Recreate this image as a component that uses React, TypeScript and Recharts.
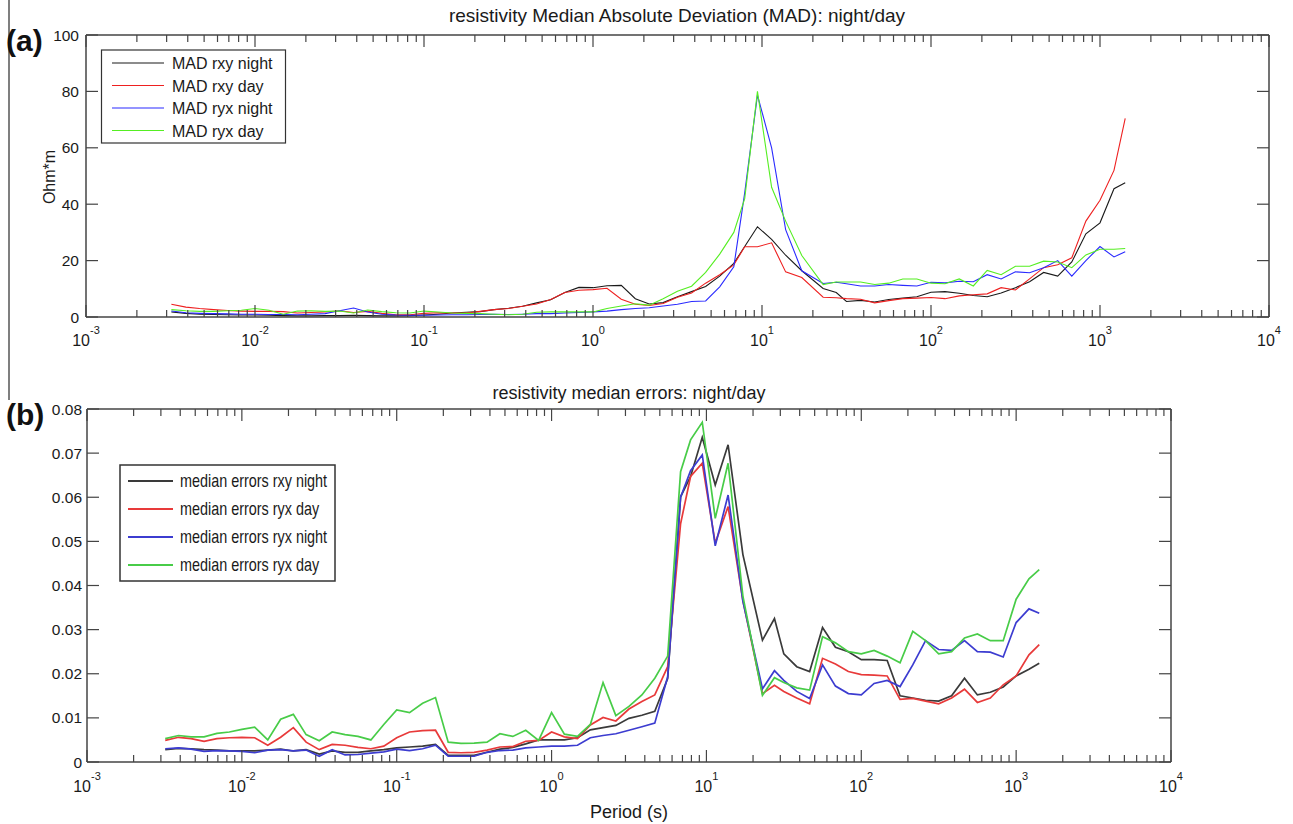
import { LineChart, Line, XAxis, YAxis } from 'recharts';

// periods (s), shared by both panels
const periods = [
  0.0032, 0.0039, 0.0047, 0.0057, 0.0069, 0.0083, 0.01, 0.0121, 0.0147, 0.0178, 0.0215, 0.026,
  0.0316, 0.0383, 0.0464, 0.0562, 0.0681, 0.0825, 0.1, 0.121, 0.147, 0.178, 0.215, 0.26,
  0.316, 0.383, 0.464, 0.562, 0.681, 0.825, 1.0, 1.21, 1.47, 1.78, 2.15, 2.6,
  3.16, 3.83, 4.64, 5.62, 6.81, 7.9, 9.4, 11.4, 13.8, 17.2, 23, 27.5,
  31.6, 38.3, 46.4, 56.2, 68.1, 82.5, 100, 121, 147, 178, 215, 260,
  316, 383, 464, 562, 681, 825, 1000, 1210, 1410,
];

// (a) MAD, Ohm*m
const madRxyNight = [
  1.8, 1.3, 1.0, 0.9, 0.8, 0.7, 0.7, 0.6, 0.5, 0.4, 0.4, 0.5, 0.5, 0.6, 0.5, 0.4, 0.4, 0.5, 0.7, 1.0, 1.4, 1.7, 1.9, 2.6,
  3.1, 3.8, 5.0, 6.1, 8.7, 10.5, 10.4, 11.1, 11.2, 6.5, 4.6, 5.1, 7.2, 9.0, 10.8, 14.5, 19.0, 25.0, 32.0, 27.5, 21.9, 16.4, 10.1, 8.7, 5.5, 5.9,
  5.3, 6.2, 6.7, 7.2, 8.8, 9.0, 8.4, 7.6, 7.2, 8.5, 10.4, 12.5, 15.8, 14.5, 19.5, 29.5, 33.4, 45.5, 47.6,
];
const madRxyDay = [
  4.5, 3.5, 3.0, 2.6, 2.3, 2.1, 2.0, 2.0, 1.9, 1.4, 1.6, 1.8, 2.2, 1.6, 2.0, 1.3, 0.8, 0.8, 1.3, 1.5, 1.4, 1.4, 2.0, 2.6,
  3.0, 3.8, 4.6, 6.2, 8.7, 9.5, 9.7, 10.2, 6.3, 4.5, 4.1, 4.8, 7.0, 8.5, 12.0, 15.0, 18.5, 24.9, 24.9, 26.3, 16.0, 14.0, 7.0, 6.8, 6.5, 6.3,
  5.0, 5.8, 6.5, 6.7, 6.9, 6.5, 7.5, 7.9, 8.2, 10.4, 9.6, 13.5, 17.5, 18.5, 21.0, 34.0, 41.4, 52.0, 70.4,
];
const madRyxNight = [
  2.1, 1.5, 1.3, 1.2, 1.1, 1.0, 1.0, 0.9, 0.9, 0.8, 1.0, 1.2, 2.2, 3.2, 1.8, 1.0, 0.7, 0.6, 0.6, 0.7, 0.8, 0.8, 0.9, 1.0,
  0.9, 1.0, 1.2, 1.2, 1.4, 1.6, 1.8, 2.1, 2.6, 3.0, 3.3, 3.9, 4.5, 5.5, 5.7, 10.7, 17.8, 44.0, 78.7, 60.0, 31.0, 16.4, 11.9, 12.3, 11.8, 11.0,
  11.0, 11.5, 11.2, 11.0, 12.3, 12.1, 12.7, 12.5, 15.0, 13.5, 16.0, 15.7, 17.5, 20.0, 14.5, 20.0, 25.0, 21.3, 23.1,
];
const madRyxDay = [
  2.6, 2.2, 2.0, 2.0, 2.2, 2.4, 3.0, 2.4, 1.0, 2.1, 2.2, 2.0, 2.1, 1.4, 2.5, 1.9, 1.5, 1.4, 2.1, 1.8, 1.4, 1.3, 1.2, 1.0,
  0.8, 1.0, 1.7, 1.8, 1.8, 1.8, 1.8, 3.0, 3.9, 4.7, 4.2, 6.5, 9.1, 10.9, 15.8, 22.3, 30.0, 42.0, 80.0, 46.0, 34.0, 21.8, 11.5, 12.4, 12.4, 12.4,
  11.5, 12.0, 13.5, 13.5, 12.0, 11.8, 13.5, 11.0, 16.5, 15.0, 18.0, 18.0, 19.8, 19.5, 17.5, 22.0, 24.0, 24.0, 24.3,
];

// (b) median errors
const errRxyNight = [
  0.0028, 0.0031, 0.003, 0.0028, 0.0027, 0.0025, 0.0025, 0.0025, 0.0027, 0.0029, 0.0025, 0.0028, 0.0018, 0.0025, 0.0022,
  0.0022, 0.0025, 0.0028, 0.0032, 0.0034, 0.0036, 0.004, 0.0015, 0.0015, 0.0015, 0.0022, 0.0029, 0.0033, 0.0041, 0.005,
  0.005, 0.005, 0.0055, 0.0073, 0.0078, 0.0083, 0.0099, 0.0106, 0.0115, 0.0189, 0.0601, 0.0647, 0.0736, 0.0628, 0.0719,
  0.047, 0.0276, 0.0325, 0.0245, 0.0216, 0.0205, 0.0305, 0.026, 0.025, 0.0232, 0.0232, 0.023, 0.015, 0.0145, 0.014,
  0.0138, 0.015, 0.019, 0.0152, 0.0158, 0.017, 0.0195, 0.021, 0.0224,
];
const errRyxDay = [
  0.0049, 0.0056, 0.0053, 0.0047, 0.0053, 0.0055, 0.0056, 0.0055, 0.0038, 0.0056, 0.0078, 0.0045, 0.0028, 0.004, 0.0038,
  0.0033, 0.003, 0.0036, 0.0055, 0.0068, 0.0071, 0.0072, 0.0022, 0.0021, 0.0022, 0.0027, 0.0034, 0.0035, 0.0047, 0.0049,
  0.0068, 0.0057, 0.0053, 0.0084, 0.0101, 0.0093, 0.012, 0.0137, 0.0152, 0.0216, 0.054, 0.0647, 0.0677, 0.0496, 0.0579,
  0.0366, 0.0155, 0.0174, 0.016, 0.0145, 0.0132, 0.0235, 0.0222, 0.0205, 0.0198, 0.0197, 0.0195, 0.0142, 0.0144, 0.0138,
  0.0132, 0.0145, 0.0165, 0.0135, 0.0145, 0.0175, 0.0195, 0.0243, 0.0266,
];
const errRyxNight = [
  0.003, 0.0032, 0.0029, 0.0024, 0.0026, 0.0025, 0.0024, 0.0021, 0.0027, 0.0028, 0.0025, 0.0027, 0.0013, 0.0028, 0.0016,
  0.0017, 0.002, 0.0023, 0.0029, 0.0026, 0.003, 0.0038, 0.0013, 0.0013, 0.0013, 0.0022, 0.0026, 0.0027, 0.0032, 0.0034,
  0.0036, 0.0036, 0.0038, 0.0055, 0.006, 0.0064, 0.0072, 0.008, 0.0088, 0.0193, 0.06, 0.066, 0.0696, 0.049, 0.0605,
  0.0364, 0.0166, 0.0207, 0.0185, 0.016, 0.0144, 0.022, 0.0172, 0.0155, 0.0152, 0.0178, 0.0185, 0.0171, 0.022, 0.0275,
  0.0255, 0.0253, 0.0275, 0.025, 0.0249, 0.0238, 0.0316, 0.0347, 0.0337,
];
const errRyxDay2 = [
  0.0053, 0.006, 0.0057, 0.0057, 0.0065, 0.0068, 0.0074, 0.0079, 0.005, 0.0097, 0.0108, 0.0062, 0.0048, 0.0068, 0.0062,
  0.0058, 0.005, 0.0085, 0.0118, 0.0112, 0.0133, 0.0146, 0.0045, 0.0042, 0.0043, 0.0045, 0.0064, 0.0058, 0.0072, 0.0049,
  0.0112, 0.0063, 0.0058, 0.0085, 0.018, 0.0105, 0.0126, 0.0152, 0.019, 0.024, 0.0658, 0.073, 0.077, 0.0552, 0.0677,
  0.0376, 0.0151, 0.0191, 0.018, 0.0168, 0.0163, 0.0284, 0.027, 0.025, 0.0245, 0.0253, 0.024, 0.0225, 0.0296, 0.0275,
  0.0245, 0.025, 0.0281, 0.029, 0.0275, 0.0275, 0.0369, 0.0415, 0.0436,
];

const madYTicks = [0, 20, 40, 60, 80, 100];
const errYTicks = [0, 0.01, 0.02, 0.03, 0.04, 0.05, 0.06, 0.07, 0.08];
const decades = [-3, -2, -1, 0, 1, 2, 3, 4];
const minorSteps = [2, 3, 4, 5, 6, 7, 8, 9];

const madLegend = ['MAD rxy night', 'MAD rxy day', 'MAD ryx night', 'MAD ryx day'];
const errLegend = ['median errors rxy night', 'median errors ryx day', 'median errors ryx night', 'median errors ryx day'];

const madColors = ['#1a1a1a', '#ee2020', '#2a2aff', '#55ee22'];
const errColors = ['#3a3a3a', '#e83a3a', '#3c3cd0', '#48cc48'];

const FONT = '"Liberation Sans", Arial, sans-serif';
const AXIS = '#444';
const TXT = '#1a1a1a';

const xTicks = decades.flatMap((d) => (d === 4 ? [10 ** d] : [10 ** d, ...minorSteps.map((m) => m * 10 ** d)]));

const madData = periods.map((p, i) => ({
  period: p, a: madRxyNight[i], b: madRxyDay[i], c: madRyxNight[i], d: madRyxDay[i],
}));
const errData = periods.map((p, i) => ({
  period: p, a: errRxyNight[i], b: errRyxDay[i], c: errRyxNight[i], d: errRyxDay2[i],
}));

const isDecade = (v: number) => Math.abs(Math.log10(v) - Math.round(Math.log10(v))) < 1e-6;

// x ticks: inward marks on the bottom and on the top frame, label only at decades
const bottomTick = (size: number, labelDy: number, topY: number) => (props: any) => {
  const { x, y, payload } = props;
  const v = payload.value;
  const major = isDecade(v);
  const len = major ? 12 : 7;
  return (
    <g>
      <line x1={x} x2={x} y1={y} y2={y - len} stroke={AXIS} strokeWidth={1.2} />
      <line x1={x} x2={x} y1={topY} y2={topY + len} stroke={AXIS} strokeWidth={1.2} />
      {major && (
        <text x={x} y={y + labelDy} textAnchor="middle" fontSize={size} fill={TXT} fontFamily={FONT}>
          10<tspan dy={-12} fontSize={11}>{Math.round(Math.log10(v))}</tspan>
        </text>
      )}
    </g>
  );
};

// y ticks: inward marks on the left and right frame
const leftTick = (fmt: (v: number) => string, gap: number, size: number, rightX: number) => (props: any) => {
  const { x, y, payload } = props;
  return (
    <g>
      <line x1={x} x2={x + 12} y1={y} y2={y} stroke={AXIS} strokeWidth={1.2} />
      <line x1={rightX} x2={rightX - 12} y1={y} y2={y} stroke={AXIS} strokeWidth={1.2} />
      <text x={x - gap} y={y + 5.5} textAnchor="end" fontSize={size} fill={TXT} fontFamily={FONT}>
        {fmt(payload.value)}
      </text>
    </g>
  );
};

const axisLine = { stroke: AXIS, strokeWidth: 1.5 };

// axes get a 1px size so that they are drawn; margins are reduced by that pixel
function Panel({ data, width, height, margin, yDomain, yTicks, yFmt, yGap, colors, strokeWidth, xLabelDy }: any) {
  const topY = margin.top + 1;
  const rightX = width - margin.right - 1;
  return (
    <LineChart width={width} height={height} data={data} margin={margin}>
      <XAxis dataKey="period" type="number" scale="log" domain={[0.001, 10000]} allowDataOverflow ticks={xTicks}
        interval={0} height={1} tickSize={0} tickMargin={0} tickLine={false} axisLine={axisLine}
        tick={bottomTick(16, xLabelDy, topY)} />
      <XAxis xAxisId="top" orientation="top" type="number" scale="log" domain={[0.001, 10000]} allowDataOverflow
        height={1} tick={false} tickLine={false} axisLine={axisLine} />
      <YAxis type="number" domain={yDomain} allowDataOverflow ticks={yTicks} interval={0} width={1} tickSize={0}
        tickMargin={0} tickLine={false} axisLine={axisLine} tick={leftTick(yFmt, yGap, 15.5, rightX)} />
      <YAxis yAxisId="right" orientation="right" type="number" domain={yDomain} allowDataOverflow
        width={1} tick={false} tickLine={false} axisLine={axisLine} />
      {['a', 'b', 'c', 'd'].map((k, i) => (
        <Line key={k} type="linear" dataKey={k} stroke={colors[i]} strokeWidth={strokeWidth} dot={false}
          activeDot={false} isAnimationActive={false} />
      ))}
    </LineChart>
  );
}

export default function App() {
  return (
    <div style={{ position: 'absolute', left: 0, top: 0, width: 1293, height: 824, background: '#fff', fontFamily: FONT }}>
      <div style={{ position: 'absolute', left: 0, top: 0 }}>
        <Panel data={madData} width={1293} height={360} margin={{ top: 34, right: 23, bottom: 42, left: 85 }}
          yDomain={[0, 100]} yTicks={madYTicks} yFmt={(v: number) => String(v)} yGap={7}
          colors={madColors} strokeWidth={1.1} xLabelDy={29} />
      </div>
      <div style={{ position: 'absolute', left: 0, top: 380 }}>
        <Panel data={errData} width={1293} height={444} margin={{ top: 28, right: 121, bottom: 61, left: 86 }}
          yDomain={[0, 0.08]} yTicks={errYTicks} yFmt={(v: number) => (v === 0 ? '0' : v.toFixed(2))} yGap={5}
          colors={errColors} strokeWidth={1.7} xLabelDy={30} />
      </div>
      <svg width={1293} height={824} style={{ position: 'absolute', left: 0, top: 0, pointerEvents: 'none' }}
        fontFamily={FONT}>
        <line x1={9} x2={9} y1={0} y2={400} stroke="#555" strokeWidth={1.5} />
        <text x={6} y={51} fontSize={30} fontWeight="bold" fill="#111">(a)</text>
        <text x={6} y={425} fontSize={30} fontWeight="bold" fill="#111">(b)</text>
        <text x={677} y={22} textAnchor="middle" fontSize={19} fill={TXT}>
          resistivity Median Absolute Deviation (MAD): night/day
        </text>
        <text x={629} y={399} textAnchor="middle" fontSize={18} fill={TXT}>
          resistivity median errors: night/day
        </text>
        <text x={629} y={818} textAnchor="middle" fontSize={18} fill={TXT}>Period (s)</text>
        <text transform="translate(55,177) rotate(-90)" textAnchor="middle" fontSize={16} fill={TXT}>Ohm*m</text>

        <rect x={101.5} y={50} width={184} height={93} fill="#fff" stroke="#333" strokeWidth={1.2} />
        {madLegend.map((name, i) => (
          <g key={name}>
            <line x1={112} x2={164} y1={63 + i * 22.5} y2={63 + i * 22.5} stroke={madColors[i]} strokeWidth={1.1} />
            <text x={172} y={69 + i * 22.5} fontSize={16} fill={TXT}>{name}</text>
          </g>
        ))}

        <rect x={120} y={465} width={215} height={116} fill="#fff" stroke="#333" strokeWidth={1.5} />
        {errLegend.map((name, i) => (
          <g key={name + i}>
            <line x1={128} x2={173} y1={481 + i * 28} y2={481 + i * 28} stroke={errColors[i]} strokeWidth={2} />
            <text transform={`translate(180,${487 + i * 28}) scale(0.8,1)`} fontSize={18} fill={TXT}>{name}</text>
          </g>
        ))}
      </svg>
    </div>
  );
}
